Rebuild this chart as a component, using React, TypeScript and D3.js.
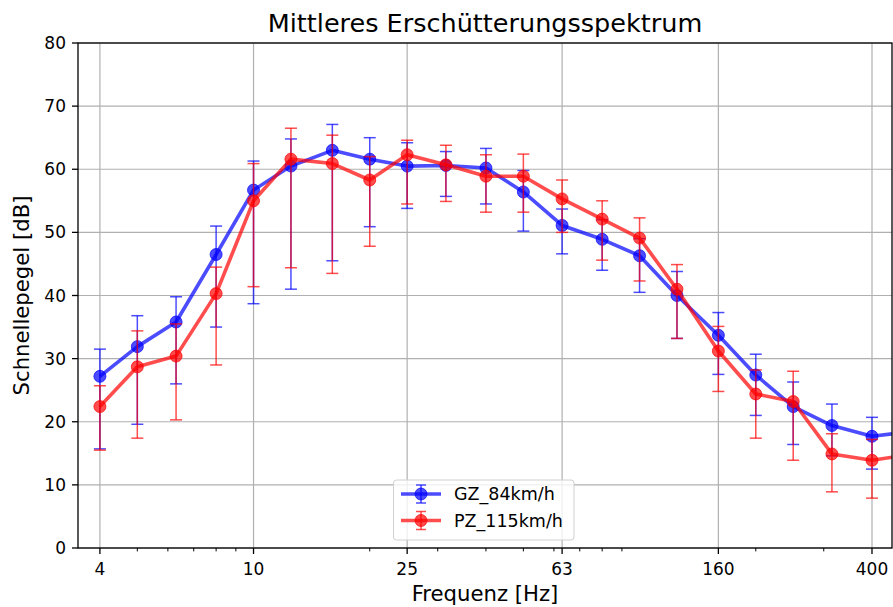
import React from "react";
import * as d3 from "d3";

const freqs = [4, 5, 6.3, 8, 10, 12.5, 16, 20, 25, 31.5, 40, 50, 63, 80, 100, 125, 160, 200, 250, 315, 400, 500];

const gzMean = [27.2, 31.9, 35.8, 46.5, 56.7, 60.5, 63.0, 61.6, 60.5, 60.6, 60.2, 56.4, 51.1, 48.9, 46.3, 40.0, 33.7, 27.4, 22.4, 19.4, 17.7, 18.4];
const gzUpper = [31.5, 36.8, 39.8, 51.0, 61.3, 64.8, 67.1, 65.0, 64.2, 62.8, 63.3, 59.8, 53.7, 52.0, 49.0, 43.8, 37.3, 30.7, 26.3, 22.8, 20.7, 21.0];
const gzLower = [15.7, 19.6, 26.0, 35.0, 38.7, 41.0, 45.5, 50.9, 53.8, 55.7, 54.5, 50.2, 46.6, 44.0, 40.5, 33.2, 27.5, 21.0, 16.4, 14.6, 12.5, 15.0];

const pzMean = [22.4, 28.7, 30.4, 40.3, 55.0, 61.6, 60.9, 58.3, 62.3, 60.7, 58.9, 58.9, 55.3, 52.1, 49.1, 41.0, 31.2, 24.4, 23.2, 14.9, 13.9, 14.8];
const pzUpper = [25.7, 34.4, 35.5, 44.5, 60.9, 66.5, 65.4, 62.0, 64.6, 63.8, 62.3, 62.4, 58.3, 55.0, 52.3, 44.9, 35.1, 28.2, 28.0, 18.1, 17.2, 18.0];
const pzLower = [15.5, 17.4, 20.3, 29.0, 41.4, 44.4, 43.5, 47.8, 54.5, 54.9, 53.2, 53.2, 50.0, 45.6, 42.3, 33.2, 24.8, 17.4, 13.9, 8.9, 7.9, 10.0];

const xTicks = [4, 10, 25, 63, 160, 400];
const xMinorTicks = [5, 6, 7, 8, 9, 20, 30, 40, 50, 60, 70, 80, 90, 200, 300];
const yTicks = [0, 10, 20, 30, 40, 50, 60, 70, 80];

const seriesNames = ["GZ_84km/h", "PZ_115km/h"];
const seriesColors = ["#0000ff", "#ff0000"];

const W = 893;
const H = 607;
const L = 78;
const R = 892;
const T = 43;
const B = 548;

export default function App() {
  const x = d3.scaleLog().domain([3.51, 450.7]).range([L, R]);
  const y = d3.scaleLinear().domain([0, 80]).range([B, T]);
  const font = "DejaVu Sans, sans-serif";

  const series = [
    { name: seriesNames[0], color: seriesColors[0], mean: gzMean, up: gzUpper, lo: gzLower },
    { name: seriesNames[1], color: seriesColors[1], mean: pzMean, up: pzUpper, lo: pzLower },
  ];

  const line = d3
    .line<number>()
    .x((_, i) => x(freqs[i]))
    .y((d) => y(d));

  const cap = 6;

  return (
    <svg
      width={W}
      height={H}
      style={{ position: "absolute", left: 0, top: 0, background: "#fff" }}
      fontFamily={font}
    >
      <defs>
        <clipPath id="plotclip">
          <rect x={L} y={T} width={R - L} height={B - T} />
        </clipPath>
      </defs>
      <rect x={0} y={0} width={W} height={H} fill="#fff" />
      {/* grid */}
      <g stroke="#b0b0b0" strokeWidth={1.2}>
        {yTicks.map((t) => (
          <line key={"gy" + t} x1={L} x2={R} y1={y(t)} y2={y(t)} />
        ))}
        {xTicks.map((t) => (
          <line key={"gx" + t} x1={x(t)} x2={x(t)} y1={T} y2={B} />
        ))}
      </g>
      {/* data */}
      <g clipPath="url(#plotclip)">
        {series.map((s) => (
          <g key={s.name}>
            <path d={line(s.mean) || ""} fill="none" stroke={s.color} strokeOpacity={0.7} strokeWidth={3.6} strokeLinejoin="round" />
            {s.mean.map((m, i) => (
              <circle key={"m" + i} cx={x(freqs[i])} cy={y(m)} r={6} fill={s.color} fillOpacity={0.7} stroke={s.color} strokeOpacity={0.7} strokeWidth={1} />
            ))}
            <g stroke={s.color} strokeOpacity={0.7} strokeWidth={1.5}>
              {s.mean.map((_, i) => {
                const cx = x(freqs[i]);
                return (
                  <g key={"e" + i}>
                    <line x1={cx} x2={cx} y1={y(s.lo[i])} y2={y(s.up[i])} />
                    <line x1={cx - cap} x2={cx + cap} y1={y(s.lo[i])} y2={y(s.lo[i])} />
                    <line x1={cx - cap} x2={cx + cap} y1={y(s.up[i])} y2={y(s.up[i])} />
                  </g>
                );
              })}
            </g>
          </g>
        ))}
      </g>
      {/* spines */}
      <rect x={L} y={T} width={R - L} height={B - T} fill="none" stroke="#000" strokeWidth={1.3} />
      {/* ticks */}
      <g stroke="#000" strokeWidth={1.3}>
        {yTicks.map((t) => (
          <line key={"yt" + t} x1={L - 6} x2={L} y1={y(t)} y2={y(t)} />
        ))}
        {xTicks.map((t) => (
          <line key={"xt" + t} x1={x(t)} x2={x(t)} y1={B} y2={B + 6} />
        ))}
        {xMinorTicks.map((t) => (
          <line key={"xm" + t} x1={x(t)} x2={x(t)} y1={B} y2={B + 3.4} strokeWidth={1} />
        ))}
      </g>
      <g fontSize={17} fill="#000">
        {yTicks.map((t) => (
          <text key={"yl" + t} x={L - 12} y={y(t)} dy="0.36em" textAnchor="end">
            {t}
          </text>
        ))}
        {xTicks.map((t) => (
          <text key={"xl" + t} x={x(t)} y={574.5} textAnchor="middle">
            {t}
          </text>
        ))}
      </g>
      {/* labels */}
      <text x={(L + R) / 2} y={601} textAnchor="middle" fontSize={21.2} fill="#000">
        Frequenz [Hz]
      </text>
      <text transform={`translate(28.5, ${(T + B) / 2}) rotate(-90)`} textAnchor="middle" fontSize={21.2} fill="#000">
        Schnellepegel [dB]
      </text>
      <text x={(L + R) / 2} y={31.5} textAnchor="middle" fontSize={25.5} fill="#000">
        Mittleres Erschütterungsspektrum
      </text>
      {/* legend */}
      <g>
        <rect x={393.5} y={480} width={180.5} height={60} rx={3} fill="#fff" fillOpacity={0.8} stroke="#d0d0d0" strokeWidth={1} />
        {series.map((s, i) => {
          const ly = 494 + i * 26.5;
          return (
            <g key={"lg" + i}>
              <line x1={401} x2={441} y1={ly} y2={ly} stroke={s.color} strokeOpacity={0.7} strokeWidth={3.6} />
              <circle cx={421} cy={ly} r={6} fill={s.color} fillOpacity={0.7} stroke={s.color} strokeOpacity={0.7} />
              <g stroke={s.color} strokeOpacity={0.7} strokeWidth={1.5}>
                <line x1={421} x2={421} y1={ly - 9} y2={ly + 9} />
                <line x1={416} x2={426} y1={ly - 9} y2={ly - 9} />
                <line x1={416} x2={426} y1={ly + 9} y2={ly + 9} />
              </g>
              <text x={454} y={ly} dy="0.36em" fontSize={17.5} fill="#000">
                {s.name}
              </text>
            </g>
          );
        })}
      </g>
    </svg>
  );
}
